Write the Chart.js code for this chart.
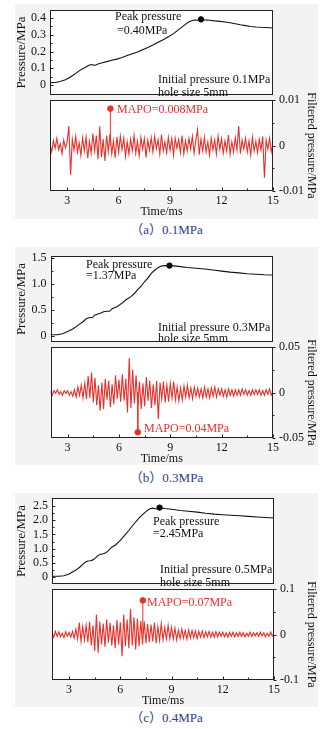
<!DOCTYPE html>
<html><head><meta charset="utf-8">
<script src="https://cdn.jsdelivr.net/npm/chart.js@4.4.1/dist/chart.umd.min.js"></script>
<style>
html,body{margin:0;padding:0;background:#fff;width:333px;height:729px;overflow:hidden;position:relative}
.bg{position:absolute;left:15px;width:303px;background:#f3f3f3}
canvas{position:absolute;left:0}
.cap{position:absolute;left:0;width:333px;text-align:center;font:13px/16px "Liberation Serif","Noto Sans CJK SC",serif;color:#2b3d8c}
</style></head><body>
<div class="bg" style="top:4px;height:215px"></div>
<div class="bg" style="top:247px;height:218px"></div>
<div class="bg" style="top:493px;height:214px"></div>
<div class="cap" style="top:222px">（a）0.1MPa</div>
<div class="cap" style="top:470px">（b）0.3MPa</div>
<div class="cap" style="top:710px">（c）0.4MPa</div>
<script>
// ================= DATA =================
const timeMin = 2, timeMax = 15;
const xTickValues = [3, 6, 9, 12, 15];
const xTickLabels = ['3', '6', '9', '12', '15'];
const xMinorTicks = [4.5, 7.5, 10.5, 13.5];

// filtered signals sampled every 0.1 ms from 2.0 ms to 15.0 ms
const filtTimeStart = 2.0, filtTimeStep = 0.1;

// ---- (a) 0.1 MPa ----
const timeA = [2.0,2.3,2.6,2.9,3.1,3.3,3.5,3.7,3.9,4.1,4.3,4.45,4.6,4.8,5.0,5.3,5.6,5.9,6.2,6.5,6.8,7.1,7.4,7.7,8.0,8.3,8.6,8.9,9.2,9.5,9.8,10.1,10.4,10.6,10.8,11.0,11.3,11.6,11.9,12.2,12.5,12.8,13.1,13.4,13.7,14.0,14.3,14.6,15.0];
const pressureA = [0.015,0.016,0.022,0.032,0.042,0.056,0.070,0.085,0.097,0.108,0.120,0.123,0.117,0.126,0.132,0.140,0.148,0.155,0.165,0.176,0.187,0.198,0.211,0.224,0.239,0.255,0.271,0.289,0.307,0.331,0.355,0.378,0.388,0.387,0.392,0.389,0.387,0.383,0.380,0.376,0.372,0.366,0.360,0.355,0.350,0.347,0.345,0.344,0.341];
const peakTimeA = [10.8], peakPressureA = [0.392];
const filtUnitA = 1e-4; // values below in 1e-4 MPa
const filteredA = [3,-14,10,-6,16,-9,4,-18,12,-5,
 8,43,-64,14,-10,20,-15,6,-22,17,
 -12,19,-28,9,-17,26,-12,22,-30,42,
 -26,14,-34,22,-14,25,-18,10,-27,19,
 -15,21,-9,16,-24,8,-19,14,-11,22,
 -17,9,-22,18,-8,15,-26,12,-10,17,
 -14,20,-7,13,-19,24,-12,8,-16,18,
 -10,15,-21,16,-6,13,-15,22,-18,10,
 -12,16,-8,20,-17,11,35,-20,14,-12,
 18,-14,8,-21,16,-10,12,-19,21,-8,
 15,-17,10,-12,23,-20,8,-14,17,-10,
 43,-18,12,-8,16,-14,10,-21,18,-12,
 9,-16,14,-10,20,-71,12,-8,16,-14,
 5];
const mapoTimeA = [5.52], mapoA = [0.0081];
const yTicksA = [0, 0.1, 0.2, 0.3, 0.4], yLabelsA = ['0','0.1','0.2','0.3','0.4'], yMinorA = [0.05,0.15,0.25,0.35];
const fTicksA = [-0.01, 0, 0.01], fLabelsA = ['-0.01','0','0.01'], fMinorA = [-0.005, 0.005];

// ---- (b) 0.3 MPa ----
const timeB = [2.0,2.4,2.7,3.0,3.3,3.6,3.9,4.1,4.3,4.45,4.6,4.9,5.1,5.3,5.45,5.6,5.9,6.2,6.45,6.7,6.9,7.1,7.3,7.5,7.7,7.9,8.1,8.3,8.5,8.7,8.95,9.2,9.6,10.0,10.5,11.0,11.5,12.0,12.5,13.0,13.5,14.0,14.5,15.0];
const pressureB = [0.02,0.02,0.04,0.08,0.13,0.20,0.27,0.33,0.35,0.35,0.40,0.43,0.46,0.47,0.47,0.52,0.56,0.63,0.70,0.75,0.81,0.89,0.95,1.04,1.11,1.20,1.26,1.31,1.34,1.345,1.345,1.34,1.325,1.31,1.295,1.28,1.26,1.24,1.22,1.205,1.19,1.18,1.17,1.165];
const peakTimeB = [8.95], peakPressureB = [1.345];
const filtUnitB = 1e-3; // values below in 1e-3 MPa
const filteredB = [1,-3,2,-1,3,-2,1,-3,2,-1,
 2,-3,1,-4,3,-5,6,-3,8,-6,
 10,-7,18,-6,22,-11,16,-14,8,-20,
 11,-18,15,-8,13,-16,9,-13,19,-7,
 14,-10,20,-9,15,-22,38,-17,25,-12,
 19,-14,12,-18,10,-15,17,-9,13,-17,
 9,-14,13,-29,11,-7,12,-11,8,-10,
 10,-6,12,-8,6,-9,5,-8,7,-5,
 8,-6,5,-7,6,-4,5,-5,4,-6,
 6,-5,4,-6,5,-4,6,-5,4,-3,
 4,-4,3,-5,4,-3,3,-4,3,-3,
 3,-3,4,-2,3,-3,2,-3,3,-2,
 3,-2,3,-3,2,-3,3,-2,4,-3,
 1];
const mapoTimeB = [7.1], mapoB = [-0.0437];
const yTicksB = [0, 0.5, 1.0, 1.5], yLabelsB = ['0','0.5','1.0','1.5'], yMinorB = [0.25,0.75,1.25];
const fTicksB = [-0.05, 0, 0.05], fLabelsB = ['-0.05','0','0.05'], fMinorB = [-0.025, 0.025];

// ---- (c) 0.5 MPa ----
const timeC = [2.0,2.4,2.7,3.0,3.2,3.4,3.6,3.8,3.95,4.1,4.25,4.4,4.55,4.7,4.85,5.0,5.15,5.3,5.5,5.7,5.9,6.1,6.3,6.5,6.7,6.9,7.1,7.3,7.5,7.7,7.9,8.1,8.3,8.6,9.0,9.5,10.0,10.5,11.0,11.5,12.0,12.5,13.0,13.5,14.0,14.5,15.0];
const pressureC = [0.02,0.02,0.04,0.10,0.17,0.24,0.33,0.44,0.52,0.56,0.57,0.60,0.67,0.76,0.80,0.82,0.85,0.93,1.05,1.12,1.23,1.36,1.50,1.64,1.80,1.94,2.09,2.20,2.31,2.40,2.43,2.40,2.45,2.42,2.39,2.35,2.32,2.29,2.25,2.22,2.20,2.18,2.16,2.14,2.12,2.10,2.08];
const peakTimeC = [8.3], peakPressureC = [2.45];
const filtUnitC = 1e-3; // values below in 1e-3 MPa
const filteredC = [4,-6,7,-4,6,-5,3,-7,6,-4,
 5,-6,7,-8,12,-10,26,-15,18,-12,
 20,-17,28,-24,20,-36,44,-40,28,-22,
 24,-27,33,-18,26,-24,20,-30,32,-22,
 27,-48,44,-26,33,-30,56,-24,38,-33,
 35,-26,30,-22,29,-19,23,-17,22,-15,
 26,-19,17,-13,24,-12,15,-10,20,-9,
 16,-10,14,-12,10,-9,12,-8,9,-10,
 10,-8,9,-7,8,-9,7,-6,8,-7,
 6,-5,7,-6,5,-6,6,-5,5,-4,
 5,-5,4,-6,5,-4,5,-5,4,-4,
 5,-4,4,-5,3,-4,5,-4,4,-3,
 4,-4,5,-3,4,-5,3,-4,5,-3,
 2];
const mapoTimeC = [7.32], mapoC = [0.075];
const yTicksC = [0, 0.5, 1.0, 1.5, 2.0, 2.5], yLabelsC = ['0','0.5','1.0','1.5','2.0','2.5'], yMinorC = [0.25,0.75,1.25,1.75,2.25];
const fTicksC = [-0.1, 0, 0.1], fLabelsC = ['-0.1','0','0.1'], fMinorC = [-0.05, 0.05];

// ================= STYLE / LAYOUT =================
const FONT = '"Liberation Serif", "Times New Roman", serif';
const INK = '#111';
const RED = 'rgb(234,48,42)';
Chart.defaults.font.family = FONT;
Chart.defaults.font.size = 12;
Chart.defaults.color = INK;

const panels = [
  { L:50, R:273, top:10, div:100, bottom:191, yMin:-0.059, yMax:0.448, fMax:0.01,
    time:timeA, pres:pressureA, pkT:peakTimeA, pkP:peakPressureA, filt:filteredA, unit:filtUnitA,
    mT:mapoTimeA, mV:mapoA, yT:yTicksA, yL:yLabelsA, yM:yMinorA, fT:fTicksA, fL:fLabelsA, fM:fMinorA,
    topText:[['Peak pressure',65,7],['=0.40MPa',67,21],['Initial pressure 0.1MPa',108,70],['hole size 5mm',108,83]],
    botText:[['MAPO=0.008MPa',67,10]] },
  { L:50.5, R:273, top:256, div:347, bottom:438, yMin:-0.119, yMax:1.529, fMax:0.05,
    time:timeB, pres:pressureB, pkT:peakTimeB, pkP:peakPressureB, filt:filteredB, unit:filtUnitB,
    mT:mapoTimeB, mV:mapoB, yT:yTicksB, yL:yLabelsB, yM:yMinorB, fT:fTicksB, fL:fLabelsB, fM:fMinorB,
    topText:[['Peak pressure',35.5,9],['=1.37MPa',35.5,20],['Initial pressure 0.3MPa',107.5,72],['hole size 5mm',107.5,83]],
    botText:[['MAPO=0.04MPa',93.5,82]] },
  { L:52, R:274, top:498, div:589, bottom:680, yMin:-0.253, yMax:2.79, fMax:0.1,
    time:timeC, pres:pressureC, pkT:peakTimeC, pkP:peakPressureC, filt:filteredC, unit:filtUnitC,
    mT:mapoTimeC, mV:mapoC, yT:yTicksC, yL:yLabelsC, yM:yMinorC, fT:fTicksC, fL:fLabelsC, fM:fMinorC,
    topText:[['Peak pressure',101,24],['=2.45MPa',101,36],['Initial pressure 0.5MPa',108,72],['hole size 5mm',108,85]],
    botText:[['MAPO=0.07MPa',95,14]] }
];

const framePlugin = {
  id: 'frame',
  beforeDraw(chart) {
    const {ctx, chartArea: a} = chart;
    ctx.save(); ctx.fillStyle = '#fff';
    ctx.fillRect(a.left, a.top, a.right - a.left, a.bottom - a.top);
    ctx.restore();
  },
  afterDraw(chart, args, opts) {
    const {ctx, chartArea: a} = chart;
    ctx.save();
    ctx.strokeStyle = '#222'; ctx.lineWidth = 1;
    const l = Math.round(a.left) + 0.5, r = Math.round(a.right) - 0.5;
    const t = Math.round(a.top) + 0.5, b = Math.round(a.bottom) - 0.5;
    ctx.strokeRect(l, t, r - l, b - t);
    ctx.beginPath();
    (opts.marks || []).forEach(m => {
      const s = chart.scales[m.axis];
      m.values.forEach(v => {
        const p = Math.round(s.getPixelForValue(v)) + 0.5;
        if (m.side === 'bottom') { ctx.moveTo(p, b); ctx.lineTo(p, b - m.len); }
        else if (m.side === 'left') { ctx.moveTo(l, p); ctx.lineTo(l + m.len, p); }
        else if (m.side === 'right') { ctx.moveTo(r, p); ctx.lineTo(r + m.len, p); }
      });
    });
    ctx.stroke();
    ctx.font = '12px ' + FONT;
    ctx.textBaseline = 'middle'; ctx.textAlign = 'left';
    (opts.texts || []).forEach(tx => {
      ctx.fillStyle = tx[3] || INK;
      ctx.fillText(tx[0], a.left + tx[1], a.top + tx[2]);
    });
    ctx.restore();
  }
};

function addCanvas(top, height) {
  const c = document.createElement('canvas');
  c.width = 333; c.height = height;
  c.style.top = top + 'px'; c.style.width = '333px'; c.style.height = height + 'px';
  document.body.appendChild(c);
  return c;
}

const XAXIS_H = 28;

panels.forEach(P => {
  // ---------- upper: pressure ----------
  const c1 = addCanvas(P.top - 10, P.div - P.top + 10);
  new Chart(c1, {
    type: 'line',
    data: { datasets: [
      { data: P.time.map((t, i) => ({x: t, y: P.pres[i]})), borderColor: INK, borderWidth: 1.1, pointRadius: 0, tension: 0 },
      { data: P.pkT.map((t, i) => ({x: t, y: P.pkP[i]})), showLine: false, pointRadius: 2.7, pointBackgroundColor: '#000', pointBorderColor: '#000', clip: false }
    ]},
    options: {
      responsive: false, animation: false, devicePixelRatio: 1, events: [],
      layout: { padding: { top: 10, left: 0, right: 333 - P.R, bottom: 0 } },
      plugins: { legend: {display: false}, tooltip: {enabled: false},
        frame: { marks: [{axis: 'y', side: 'left', values: P.yT, len: 3}, {axis: 'y', side: 'left', values: P.yM, len: 2}],
                 texts: P.topText } },
      scales: {
        x: { type: 'linear', min: timeMin, max: timeMax, display: false },
        y: { type: 'linear', position: 'left', min: P.yMin, max: P.yMax,
          afterBuildTicks: s => { s.ticks = P.yT.map(v => ({value: v})); },
          afterFit: s => { s.width = P.L; s.paddingTop = 0; s.paddingBottom = 0; },
          ticks: { padding: 4, color: INK, autoSkip: false, callback: (v, i) => P.yL[i] },
          grid: { display: false, drawTicks: false }, border: { display: false },
          title: { display: true, text: 'Pressure/MPa', color: INK, font: {size: 13}, padding: {top: 14, bottom: 0} } }
      }
    },
    plugins: [framePlugin]
  });

  // ---------- lower: filtered pressure ----------
  const h2 = 10 + (P.bottom - P.div) + XAXIS_H;
  const c2 = addCanvas(P.div - 10, h2);
  new Chart(c2, {
    type: 'line',
    data: { datasets: [
      { data: P.filt.map((v, i) => ({x: filtTimeStart + i * filtTimeStep, y: v * P.unit})), borderColor: RED, borderWidth: 1.1, pointRadius: 0, tension: 0 },
      { data: [{x: P.mT[0], y: 0}, {x: P.mT[0], y: P.mV[0]}], borderColor: RED, borderWidth: 1, pointRadius: [0, 2.8],
        pointBackgroundColor: RED, pointBorderColor: RED, tension: 0, clip: false }
    ]},
    options: {
      responsive: false, animation: false, devicePixelRatio: 1, events: [],
      layout: { padding: { top: 10, left: P.L, right: 0, bottom: 0 } },
      plugins: { legend: {display: false}, tooltip: {enabled: false},
        frame: { marks: [{axis: 'x', side: 'bottom', values: xTickValues, len: 3}, {axis: 'x', side: 'bottom', values: xMinorTicks, len: 2},
                         {axis: 'y', side: 'right', values: P.fT, len: 3}, {axis: 'y', side: 'right', values: P.fM, len: 2}],
                 texts: P.botText.map(t => [t[0], t[1], t[2], RED]) } },
      scales: {
        x: { type: 'linear', position: 'bottom', min: timeMin, max: timeMax,
          afterBuildTicks: s => { s.ticks = xTickValues.map(v => ({value: v})); },
          afterFit: s => { s.height = XAXIS_H; s.paddingLeft = 0; s.paddingRight = 0; },
          ticks: { padding: 3, color: INK, maxRotation: 0, autoSkip: false, callback: (v, i) => xTickLabels[i] },
          grid: { display: false, drawTicks: false }, border: { display: false },
          title: { display: true, text: 'Time/ms', color: INK, font: {size: 12}, padding: {top: 0, bottom: 0} } },
        y: { type: 'linear', position: 'right', min: -P.fMax, max: P.fMax,
          afterBuildTicks: s => { s.ticks = P.fT.map(v => ({value: v})); },
          afterFit: s => { s.width = 333 - P.R; s.paddingTop = 0; s.paddingBottom = 0; },
          ticks: { padding: 6, color: INK, autoSkip: false, callback: (v, i) => P.fL[i] },
          grid: { display: false, drawTicks: false }, border: { display: false },
          title: { display: true, text: 'Filtered pressure/MPa', color: INK, font: {size: 12}, padding: {top: 15, bottom: 0} } }
      }
    },
    plugins: [framePlugin]
  });
});
</script>
</body></html>
